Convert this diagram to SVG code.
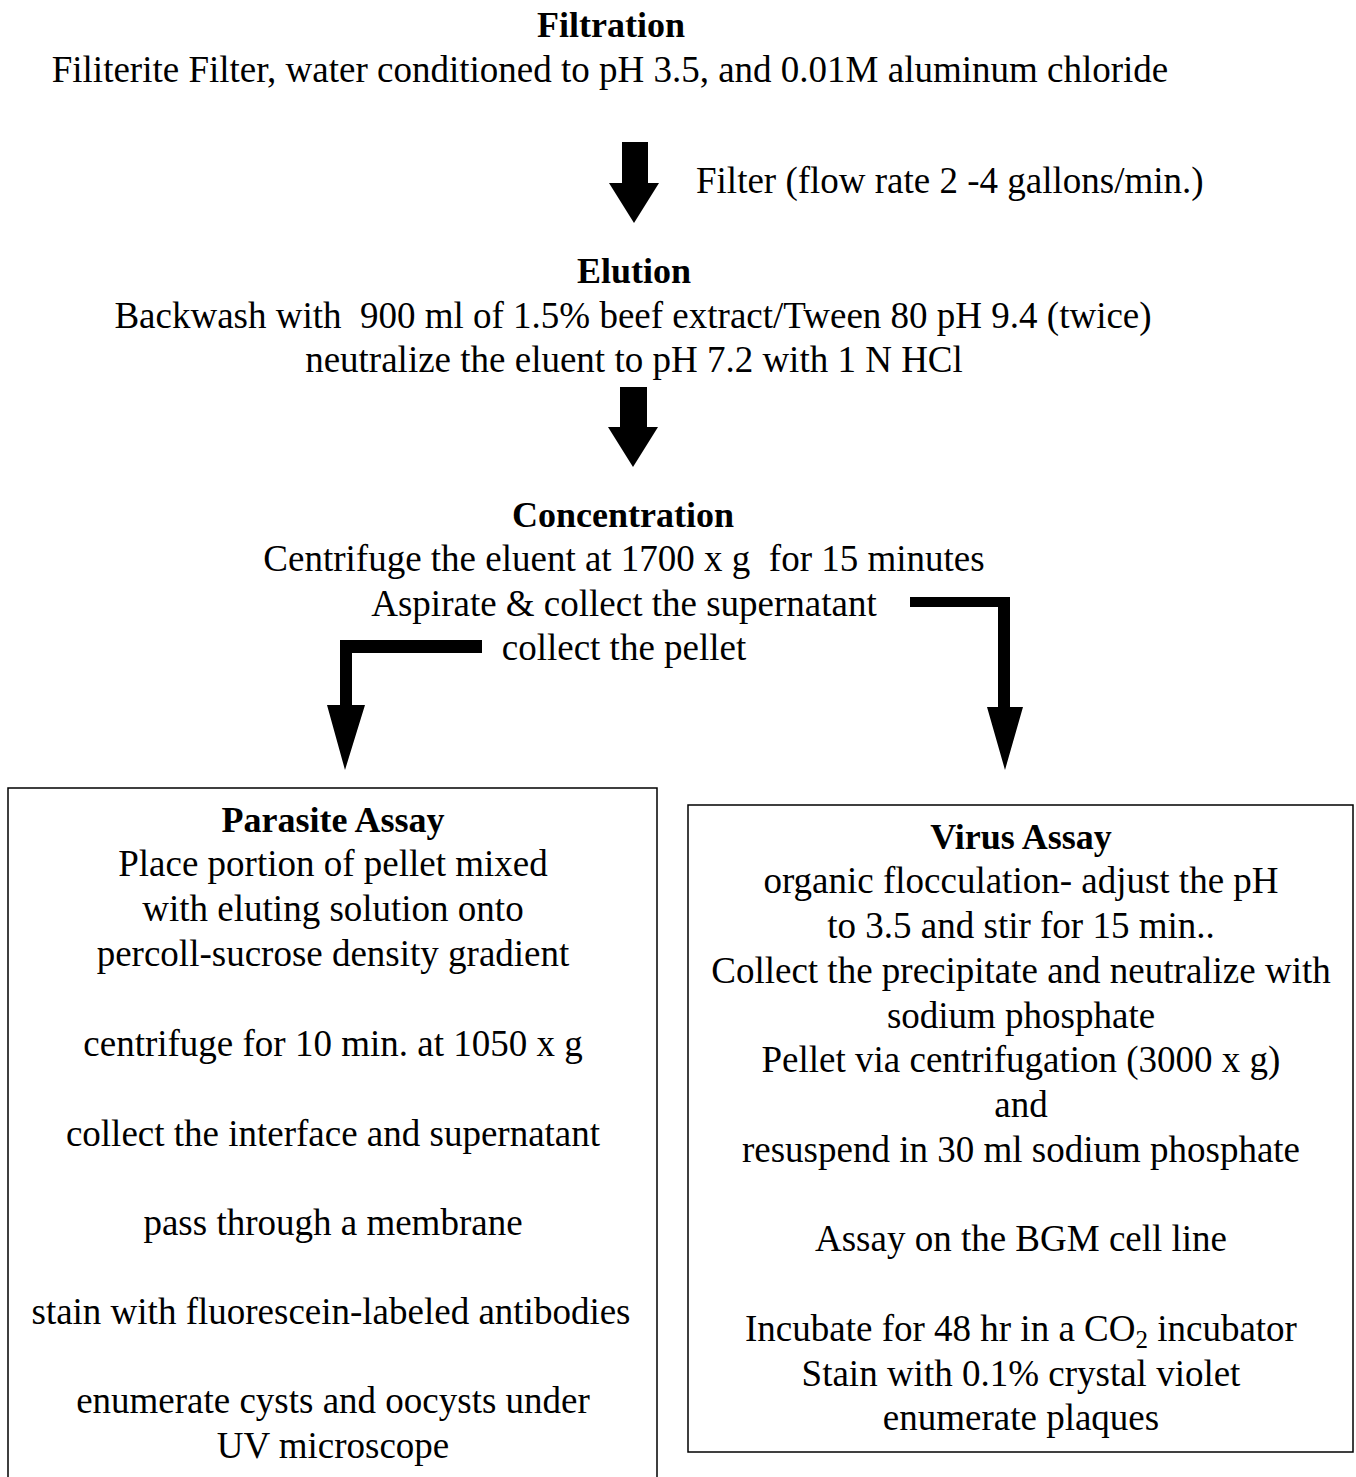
<svg xmlns="http://www.w3.org/2000/svg" width="1356" height="1477" viewBox="0 0 1356 1477">
<style>
text{font-family:"Liberation Serif","Times New Roman",serif;font-size:37px;fill:#000;text-anchor:middle}
.b{font-weight:bold;font-size:36px}
.l{text-anchor:start}
.box{fill:none;stroke:#000;stroke-width:1.5}
.arr{fill:#000;stroke:none}
</style>
<rect width="1356" height="1477" fill="#fff"/>
<g id="filtration">
<text class="b" x="611" y="37">Filtration</text>
<text x="610" y="82">Filiterite Filter, water conditioned to pH 3.5, and 0.01M aluminum chloride</text>
</g>
<g id="elution">
<text class="b" x="634" y="283">Elution</text>
<text x="633" y="328" xml:space="preserve">Backwash with  900 ml of 1.5% beef extract/Tween 80 pH 9.4 (twice)</text>
<text x="634" y="372">neutralize the eluent to pH 7.2 with 1 N HCl</text>
</g>
<g id="concentration">
<text class="b" x="623" y="527">Concentration</text>
<text x="624" y="571" xml:space="preserve">Centrifuge the eluent at 1700 x g  for 15 minutes</text>
<text x="624" y="616">Aspirate &amp; collect the supernatant</text>
<text x="624" y="660">collect the pellet</text>
</g>
<g id="parasite">
<path class="box" d="M8,1477 V788 H657 V1477"/>
<text class="b" x="333" y="832">Parasite Assay</text>
<text x="333" y="876">Place portion of pellet mixed</text>
<text x="333" y="921">with eluting solution onto</text>
<text x="333" y="966">percoll-sucrose density gradient</text>
<text x="333" y="1056">centrifuge for 10 min. at 1050 x g</text>
<text x="333" y="1146">collect the interface and supernatant</text>
<text x="333" y="1235">pass through a membrane</text>
<text x="331" y="1324">stain with fluorescein-labeled antibodies</text>
<text x="333" y="1413">enumerate cysts and oocysts under</text>
<text x="333" y="1458">UV microscope</text>
</g>
<g id="virus">
<rect class="box" x="688" y="805" width="665" height="647"/>
<text class="b" x="1021" y="849">Virus Assay</text>
<text x="1021" y="893">organic flocculation- adjust the pH</text>
<text x="1021" y="938">to 3.5 and stir for 15 min..</text>
<text x="1021" y="983">Collect the precipitate and neutralize with</text>
<text x="1021" y="1028">sodium phosphate</text>
<text x="1021" y="1072">Pellet via centrifugation (3000 x g)</text>
<text x="1021" y="1117">and</text>
<text x="1021" y="1162">resuspend in 30 ml sodium phosphate</text>
<text x="1021" y="1251">Assay on the BGM cell line</text>
<text x="1021" y="1341">Incubate for 48 hr in a CO<tspan font-size="25" dy="7">2</tspan><tspan dy="-7"> incubator</tspan></text>
<text x="1021" y="1386">Stain with 0.1% crystal violet</text>
<text x="1021" y="1430">enumerate plaques</text>
</g>
<g id="connectors">
<path class="arr" d="M622,142 H648 V183 H659 L634,223 L609,183 H622 Z"/>
<text class="l" x="696" y="193">Filter (flow rate 2 -4 gallons/min.)</text>
<path class="arr" d="M620,387 H647 V427 H658 L633,467 L608,427 H620 Z"/>
<path class="arr" d="M482,640 V653 H352 V705 H365 L345,770 L327,705 H340 V640 Z"/>
<path class="arr" d="M910,597 H1010 V707 H1023 L1005,770 L987,707 H998 V607 H910 Z"/>
</g>
</svg>
